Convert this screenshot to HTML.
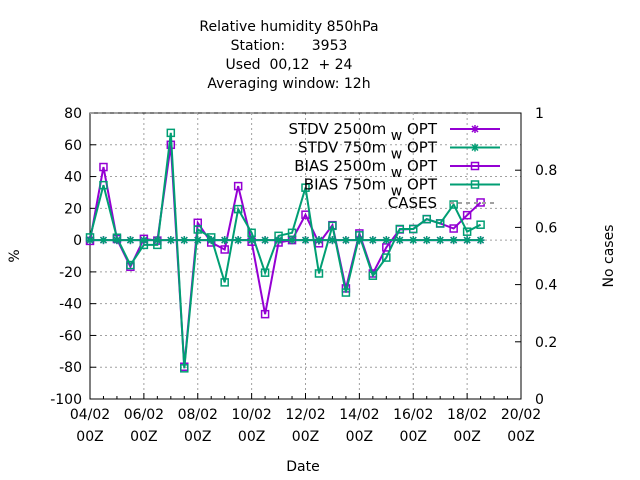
<!DOCTYPE html>
<html><head><meta charset="utf-8"><style>
html,body{margin:0;padding:0;background:#fff;}
svg{display:block;font-family:"DejaVu Sans","Liberation Sans",sans-serif;font-size:14px;}
</style></head><body>
<svg id="chart" width="640" height="480">
<g id="grid"></g>
<g id="axes"></g>
<g id="series"></g>
<g id="legend"></g>
<g text-anchor="middle">
<text x="289" y="31">Relative humidity 850hPa</text>
<text x="289" y="50" xml:space="preserve">Station:      3953</text>
<text x="289" y="69" xml:space="preserve">Used  00,12  + 24</text>
<text x="289" y="88">Averaging window: 12h</text>
</g>
<text x="303" y="471" text-anchor="middle">Date</text>
<text transform="translate(19,256) rotate(-90)" text-anchor="middle">%</text>
<text transform="translate(613,256) rotate(-90)" text-anchor="middle">No cases</text>
</svg>
<script>
const xLabels = ["04/02","06/02","08/02","10/02","12/02","14/02","16/02","18/02","20/02"];
const yTicks = [-100,-80,-60,-40,-20,0,20,40,60,80];
const y2Ticks = [0,0.2,0.4,0.6,0.8,1];
const stdv2500 = [0,0,0,0,0,0,0,0,0,0,0,0,0,0,0,0,0,0,0,0,0,0,0,0,0,0,0,0,0,0];
const stdv750 = [0,0,0,0,0,0,0,0,0,0,0,0,0,0,0,0,0,0,0,0,0,0,0,0,0,0,0,0,0,0];
const bias2500 = [-0.5,46,0.7,-16.8,0.8,-0.3,60,-79.7,10.9,-1.5,-5.9,34,-1,-46.6,-1.5,0,16,-2,9.4,-30.4,4.2,-21,-4.6,6.7,7,13.2,10.5,7.3,15.7,23.7];
const bias750 = [1.7,34.6,1.5,-15.7,-3,-3,67.5,-80.7,6.7,1.7,-26.6,19.5,4.6,-20.5,2.7,4.6,33,-21,9,-33,3,-22.4,-11,7,7,13.2,10.5,22.4,5.3,9.7];
const cases = [1,1,1,1,1,1,1,1,1,1,1,1,1,1,1,1,1,1,1,1,1,1,1,1,1,1,1,1,1,1];

const L=90,R=521,T=113,B=399;
const xs = i => L + i*(R-L)/32;
const ys = v => B - (v+100)*(B-T)/180;
const y2s = v => B - v*(B-T);
const NS="http://www.w3.org/2000/svg";
function mk(tag,attrs,parent){const e=document.createElementNS(NS,tag);for(const k in attrs)e.setAttribute(k,attrs[k]);parent.appendChild(e);return e;}
const grid=document.getElementById('grid'),axes=document.getElementById('axes'),series=document.getElementById('series'),legend=document.getElementById('legend');

yTicks.forEach(v=>{
  const y=ys(v);
  if(v>-100&&v<80){const g=mk('line',{x1:L,x2:R,y1:y,y2:y,stroke:'#a0a0a0','stroke-dasharray':'2,3'},grid);
  
  }
  mk('line',{x1:L,x2:L+6,y1:y,y2:y,stroke:'#000'},axes);
  const t=mk('text',{x:L-8,y:y+5,'text-anchor':'end'},axes);t.textContent=v;
  
  
});
y2Ticks.forEach(v=>{
  const y=y2s(v);
  mk('line',{x1:R-6,x2:R,y1:y,y2:y,stroke:'#000'},axes);
  const t=mk('text',{x:R+14,y:y+5},axes);t.textContent=String(v);
  
  
});
for(let i=0;i<=32;i++){
  const x=xs(i);
  if(i%4===0){
    if(i>0&&i<32){const g=mk('line',{x1:x,x2:x,y1:T,y2:B,stroke:'#a0a0a0','stroke-dasharray':'2,3'},grid);
    
    }
    mk('line',{x1:x,x2:x,y1:B,y2:B-6,stroke:'#000'},axes);
    const lab=xLabels[i/4];
    const t=mk('text',{x:x,y:B+20,'text-anchor':'middle'},axes);t.textContent=lab;
    
    
    const t2=mk('text',{x:x,y:B+42,'text-anchor':'middle'},axes);t2.textContent='00Z';
    
    
  } else mk('line',{x1:x,x2:x,y1:B,y2:B-3,stroke:'#000'},axes);
}
mk('rect',{x:L,y:T,width:R-L,height:B-T,fill:'none',stroke:'#000'},axes);

function star(g,x,y,c){
  mk('path',{d:`M${x-4},${y}H${x+4}M${x},${y-4}V${y+4}M${x-3},${y-3}L${x+3},${y+3}M${x-3},${y+3}L${x+3},${y-3}`,stroke:c,'stroke-width':1.5,fill:'none'},g);
}
function sq(g,x,y,c){mk('rect',{x:x-3.5,y:y-3.5,width:7,height:7,fill:'none',stroke:c,'stroke-width':1.5},g);}
function drawSeries(vals,c,marker,name){
  const g=mk('g',{},series);
  
  
  const pts=vals.map((v,i)=>xs(i)+','+ys(v)).join(' ');
  mk('polyline',{points:pts,fill:'none',stroke:c,'stroke-width':2},g);
  vals.forEach((v,i)=>marker(g,xs(i),ys(v),c));
}
const cg=mk('g',{},series);


mk('polyline',{points:cases.map((v,i)=>xs(i)+','+y2s(v)).join(' '),fill:'none',stroke:'#a0a0a0','stroke-width':2,'stroke-dasharray':'4,4'},cg);
drawSeries(bias2500,'#9400d3',sq,'bias-2500m-line');
drawSeries(bias750,'#009e73',sq,'bias-750m-line');
drawSeries(stdv2500,'#9400d3',star,'stdv-2500m-line');
drawSeries(stdv750,'#009e73',star,'stdv-750m-line');

const leg=[["STDV 2500m","#9400d3",star,false],["STDV 750m","#009e73",star,false],["BIAS 2500m","#9400d3",sq,false],["BIAS 750m","#009e73",sq,false],["CASES","#a0a0a0",null,true]];
leg.forEach((d,k)=>{
  const y=129+k*18.5;
  const g=mk('g',{},legend);
  
  
  const t=mk('text',{x:437,y:y+5,'text-anchor':'end','font-size':'15'},g);
  if(d[3]){t.textContent=d[0];}
  else{
    const a=mk('tspan',{},t);a.textContent=d[0];
    const b=mk('tspan',{dy:6,'font-size':'14'},t);b.textContent=' w';
    const c=mk('tspan',{dy:-6},t);c.textContent=' OPT';
  }
  if(d[3]) mk('line',{x1:450,x2:497,y1:y,y2:y,stroke:d[1],'stroke-width':2,'stroke-dasharray':'4,4'},g);
  else{mk('line',{x1:450,x2:500,y1:y,y2:y,stroke:d[1],'stroke-width':2},g);d[2](g,475,y,d[1]);}
});
</script>
</body></html>
